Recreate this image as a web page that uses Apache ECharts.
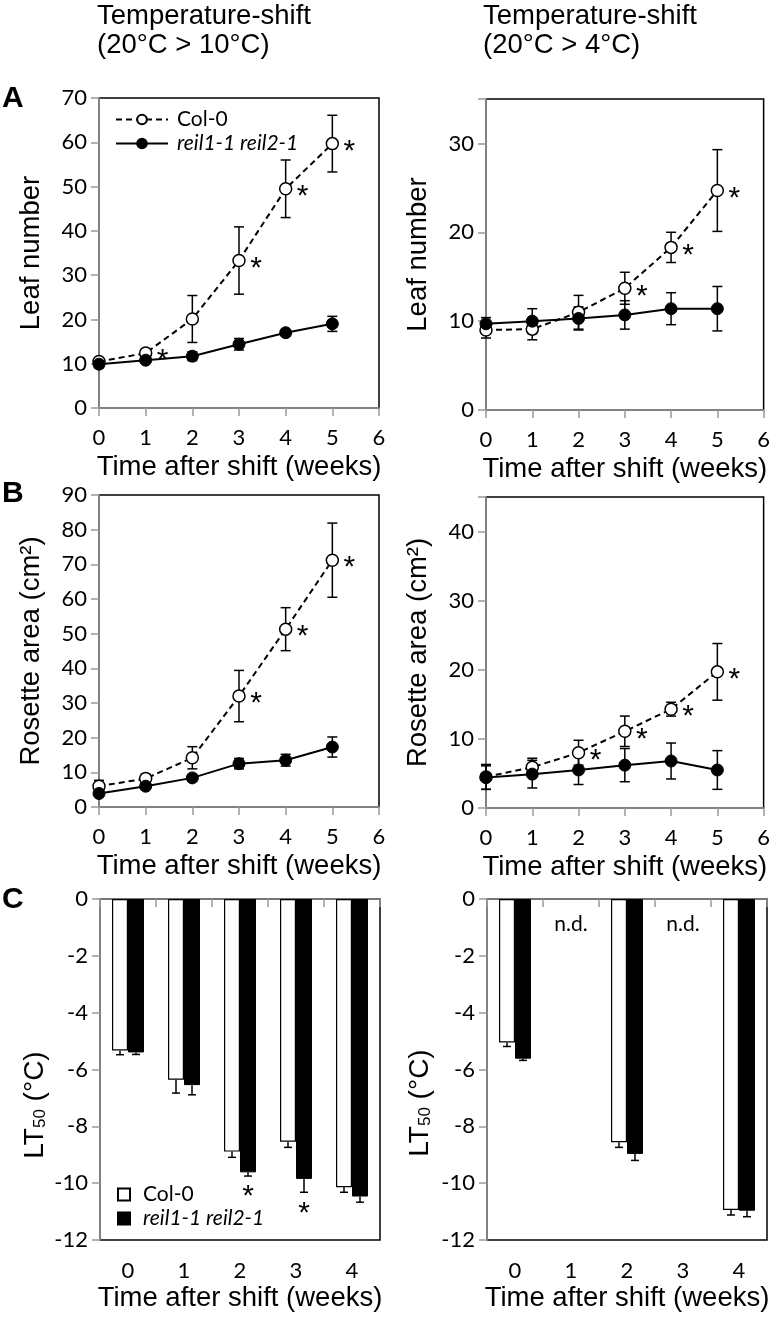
<!DOCTYPE html>
<html><head><meta charset="utf-8">
<script src="https://cdn.jsdelivr.net/npm/echarts@6/dist/echarts.min.js"></script>
<style>html,body{margin:0;padding:0;background:#fff}#c{width:773px;height:1319px}</style>
</head><body><div id="c"></div>
<script>
// ---------------- data ----------------
const weeks = [0, 1, 2, 3, 4, 5];
const genotypes = ['Col-0', 'reil1-1 reil2-1'];
const xTitle = 'Time after shift (weeks)';
const panelTitles = [['Temperature-shift', '(20°C > 10°C)'], ['Temperature-shift', '(20°C > 4°C)']];

// A: leaf number, 20°C > 10°C
const leaf10Col = [10.5, 12.4, 20.1, 33.3, 49.5, 59.7];
const leaf10ColErr = [0.8, 0.8, 5.3, 7.6, 6.5, 6.4];
const leaf10Reil = [9.9, 10.8, 11.7, 14.4, 17.0, 19.0];
const leaf10ReilErr = [0.8, 0.6, 1.0, 1.3, 0.7, 1.7];
const leaf10Sig = [0, 1, 0, 1, 1, 1];
// A: leaf number, 20°C > 4°C
const leaf4Col = [9.0, 9.1, 11.0, 13.7, 18.3, 24.7];
const leaf4ColErr = [0.9, 1.2, 1.9, 1.8, 1.7, 4.6];
const leaf4Reil = [9.7, 10.0, 10.3, 10.7, 11.4, 11.4];
const leaf4ReilErr = [0.7, 1.4, 1.3, 1.6, 1.8, 2.5];
const leaf4Sig = [0, 0, 0, 1, 1, 1];
// B: rosette area, 20°C > 10°C
const area10Col = [6.0, 8.2, 14.2, 32.0, 51.3, 71.2];
const area10ColErr = [1.7, 1.3, 3.2, 7.4, 6.2, 10.7];
const area10Reil = [3.9, 6.0, 8.4, 12.5, 13.5, 17.3];
const area10ReilErr = [0.8, 0.8, 1.0, 1.5, 1.7, 2.9];
const area10Sig = [0, 0, 0, 1, 1, 1];
// B: rosette area, 20°C > 4°C
const area4Col = [4.5, 5.9, 8.0, 11.1, 14.3, 19.7];
const area4ColErr = [1.8, 1.3, 1.8, 2.2, 1.0, 4.1];
const area4Reil = [4.4, 4.9, 5.5, 6.2, 6.8, 5.5];
const area4ReilErr = [1.7, 2.0, 2.1, 2.4, 2.6, 2.8];
const area4Sig = [0, 0, 1, 1, 1, 1];
// C: LT50
const ltWeeks = ['0', '1', '2', '3', '4'];
const lt10Col = [-5.33, -6.36, -8.89, -8.54, -10.14];
const lt10ColErr = [0.15, 0.47, 0.2, 0.2, 0.18];
const lt10Reil = [-5.40, -6.55, -9.62, -9.85, -10.47];
const lt10ReilErr = [0.07, 0.34, 0.13, 0.47, 0.2];
const lt10Sig = [0, 0, 1, 1, 0];
const lt4Col = [-5.05, null, -8.56, null, -10.94];
const lt4ColErr = [0.14, null, 0.18, null, 0.18];
const lt4Reil = [-5.62, null, -8.97, null, -10.97];
const lt4ReilErr = [0.06, null, 0.23, null, 0.21];
const lt4NotDetermined = [0, 1, 0, 1, 0];

// ---------------- styles ----------------
const TICKF = 'Lato';
const TITLEF = 'Liberation Sans';
const GRAY = '#999';
const TICKSIZE = 22;
const NAMESIZE = 27.5;

const grids = [
  {left: 99, top: 98, width: 280, height: 310},
  {left: 486, top: 99, width: 280, height: 311},
  {left: 99, top: 495, width: 280, height: 312},
  {left: 486, top: 497, width: 280, height: 311},
  {left: 100, top: 899, width: 280, height: 341},
  {left: 487, top: 899, width: 280, height: 341}
].map(g => Object.assign({show: true, borderColor: '#000', borderWidth: 1.5, backgroundColor: 'transparent'}, g));

const xAxes = [], yAxes = [], series = [];

function valueX(gi) {
  xAxes.push({
    gridIndex: gi, type: 'value', min: 0, max: 6, interval: 1,
    axisLine: {show: true, lineStyle: {color: GRAY, width: 1.5}},
    axisTick: {show: true, length: 8, lineStyle: {color: GRAY, width: 1.5}},
    splitLine: {show: false},
    axisLabel: {fontFamily: TICKF, fontSize: TICKSIZE, color: '#000', margin: 19},
    name: xTitle, nameLocation: 'middle', nameGap: 45,
    nameTextStyle: {fontFamily: TITLEF, fontSize: NAMESIZE, color: '#000'}
  });
  return xAxes.length - 1;
}
function valueY(gi, min, max, interval, name, gap) {
  yAxes.push({
    gridIndex: gi, type: 'value', min: min, max: max, interval: interval,
    axisLine: {show: true, lineStyle: {color: GRAY, width: 1.5}},
    axisTick: {show: true, length: 8, lineStyle: {color: GRAY, width: 1.5}},
    splitLine: {show: false},
    axisLabel: {fontFamily: TICKF, fontSize: TICKSIZE, color: '#000', margin: 12,
      formatter: v => (Math.abs(v % interval) < 1e-9 ? String(v) : '')},
    name: name || '', nameLocation: 'middle', nameGap: gap || 55, nameRotate: 90,
    nameTextStyle: {fontFamily: TITLEF, fontSize: NAMESIZE, color: '#000'}
  });
  return yAxes.length - 1;
}

function errSeries(xi, yi, vals, errs) {
  return {
    type: 'custom', xAxisIndex: xi, yAxisIndex: yi, z: 1, silent: true,
    data: weeks.map((w, i) => [w, vals[i] - errs[i], vals[i] + errs[i]]),
    encode: {x: 0, y: [1, 2]},
    renderItem: (params, api) => {
      const x = api.value(0);
      const p1 = api.coord([x, api.value(2)]);
      const p2 = api.coord([x, api.value(1)]);
      const w = 5, st = {stroke: '#000', lineWidth: 1.5};
      return {type: 'group', children: [
        {type: 'line', shape: {x1: p1[0], y1: p1[1], x2: p2[0], y2: p2[1]}, style: st},
        {type: 'line', shape: {x1: p1[0] - w, y1: p1[1], x2: p1[0] + w, y2: p1[1]}, style: st},
        {type: 'line', shape: {x1: p2[0] - w, y1: p2[1], x2: p2[0] + w, y2: p2[1]}, style: st}
      ]};
    }
  };
}
function starSeries(xi, yi, vals, sig, dx, dy, catMode) {
  const data = [];
  sig.forEach((s, i) => { if (s) data.push([catMode ? i : weeks[i], vals[i]]); });
  return {
    type: 'custom', xAxisIndex: xi, yAxisIndex: yi, z: 5, silent: true, data: data,
    renderItem: (params, api) => {
      const p = api.coord([api.value(0), api.value(1)]);
      return {type: 'text', x: p[0] + dx, y: p[1] + dy,
        style: {text: '*', fontFamily: TITLEF, fontSize: 30, fill: '#000', align: 'center', verticalAlign: 'middle'}};
    }
  };
}

function linePanel(gi, ymax, yint, yname, col, colErr, reil, reilErr, sig) {
  const xi = valueX(gi);
  const yi = valueY(gi, 0, ymax, yint, yname, 54);
  series.push(errSeries(xi, yi, col, colErr));
  series.push(errSeries(xi, yi, reil, reilErr));
  series.push({
    name: genotypes[0], type: 'line', xAxisIndex: xi, yAxisIndex: yi, z: 3,
    data: weeks.map((w, i) => [w, col[i]]),
    symbol: 'circle', symbolSize: 12,
    itemStyle: {color: '#fff', borderColor: '#000', borderWidth: 1.5},
    lineStyle: {color: '#000', width: 2, type: [6, 4]}
  });
  series.push({
    name: genotypes[1], type: 'line', xAxisIndex: xi, yAxisIndex: yi, z: 4,
    data: weeks.map((w, i) => [w, reil[i]]),
    symbol: 'circle', symbolSize: 12,
    itemStyle: {color: '#000', borderColor: '#000', borderWidth: 1},
    lineStyle: {color: '#000', width: 2}
  });
  series.push(starSeries(xi, yi, col, sig, 17, 8, false));
}

function barPanel(gi, col, colErr, reil, reilErr, sig, nd) {
  xAxes.push({
    gridIndex: gi, type: 'category', data: ltWeeks, position: 'bottom',
    axisLine: {show: true, lineStyle: {color: '#000', width: 1.5}},
    axisTick: {show: true, length: 8, interval: 0, lineStyle: {color: GRAY, width: 1.5}},
    axisLabel: {fontFamily: TICKF, fontSize: TICKSIZE, color: '#000', margin: 20},
    name: xTitle, nameLocation: 'middle', nameGap: 44,
    nameTextStyle: {fontFamily: TITLEF, fontSize: NAMESIZE, color: '#000'}
  });
  const xi = xAxes.length - 1;
  xAxes.push({
    gridIndex: gi, type: 'category', data: ltWeeks, position: 'top',
    axisLine: {show: true, lineStyle: {color: GRAY, width: 1.5}},
    axisTick: {show: true, inside: true, length: 6, interval: 0, lineStyle: {color: GRAY, width: 1.5}},
    axisLabel: {show: false}
  });
  const yi = valueY(gi, -12, 0, 2, '', 55);
  series.push({
    name: genotypes[0] + ' ', type: 'bar', xAxisIndex: xi, yAxisIndex: yi, barWidth: 16, barGap: '0%',
    data: col, itemStyle: {color: '#fff', borderColor: '#000', borderWidth: 1.2}, z: 2
  });
  series.push({
    name: genotypes[1] + ' ', type: 'bar', xAxisIndex: xi, yAxisIndex: yi, barWidth: 16, barGap: '0%',
    data: reil, itemStyle: {color: '#000', borderColor: '#000', borderWidth: 1}, z: 2
  });
  [[col, colErr, -8], [reil, reilErr, 8]].forEach(([vals, errs, dx]) => {
    const data = [];
    vals.forEach((v, i) => { if (v !== null) data.push([i, v, errs[i]]); });
    series.push({
      type: 'custom', xAxisIndex: xi, yAxisIndex: yi, z: 3, silent: true, data: data,
      renderItem: (params, api) => {
        const i = api.value(0), v = api.value(1), e = api.value(2);
        const p1 = api.coord([i, v]), p2 = api.coord([i, v - e]);
        const x = p1[0] + dx, w = 4, st = {stroke: '#000', lineWidth: 1.5};
        return {type: 'group', children: [
          {type: 'line', shape: {x1: x, y1: p1[1], x2: x, y2: p2[1]}, style: st},
          {type: 'line', shape: {x1: x - w, y1: p2[1], x2: x + w, y2: p2[1]}, style: st}
        ]};
      }
    });
  });
  if (sig) {
    const lows = reil.map((v, i) => v === null ? null : v - reilErr[i]);
    series.push(starSeries(xi, yi, lows, sig, 8, 21, true));
  }
  if (nd) {
    const data = [];
    nd.forEach((f, i) => { if (f) data.push([i, 0]); });
    series.push({
      type: 'custom', xAxisIndex: xi, yAxisIndex: yi, z: 5, silent: true, data: data,
      renderItem: (params, api) => {
        const p = api.coord([api.value(0), api.value(1)]);
        return {type: 'text', x: p[0], y: p[1] + 25,
          style: {text: 'n.d.', fontFamily: TICKF, fontSize: 21, fill: '#000', align: 'center', verticalAlign: 'middle'}};
      }
    });
  }
}

linePanel(0, 70, 10, 'Leaf number', leaf10Col, leaf10ColErr, leaf10Reil, leaf10ReilErr, leaf10Sig);
linePanel(1, 35, 10, 'Leaf number', leaf4Col, leaf4ColErr, leaf4Reil, leaf4ReilErr, leaf4Sig);
linePanel(2, 90, 10, 'Rosette area (cm²)', area10Col, area10ColErr, area10Reil, area10ReilErr, area10Sig);
linePanel(3, 45, 10, 'Rosette area (cm²)', area4Col, area4ColErr, area4Reil, area4ReilErr, area4Sig);
barPanel(4, lt10Col, lt10ColErr, lt10Reil, lt10ReilErr, lt10Sig, null);
barPanel(5, lt4Col, lt4ColErr, lt4Reil, lt4ReilErr, null, lt4NotDetermined);

const italicFmt = name => (name.trim() === genotypes[0] ? name : '{i|' + name + '}');
const legendText = {fontFamily: TICKF, fontSize: 21, color: '#000', rich: {i: {fontFamily: TICKF, fontSize: 21, fontStyle: 'italic', color: '#000'}}};

function titleText(x, y, text, size, weight) {
  return {type: 'text', x: x, y: y, silent: true,
    style: {text: text, fontFamily: TITLEF, fontSize: size, fontWeight: weight || 'normal', fill: '#000', align: 'left', verticalAlign: 'middle'}};
}
function ltTitle(cx, cy) {
  return {type: 'text', x: cx, y: cy, rotation: Math.PI / 2, silent: true,
    style: {text: '{a|LT}{s|50}{a| (°C)}', align: 'center', verticalAlign: 'middle', fill: '#000',
      rich: {a: {fontFamily: TITLEF, fontSize: 28, color: '#000'},
             s: {fontFamily: TITLEF, fontSize: 17, color: '#000', verticalAlign: 'bottom', lineHeight: 5}}}};
}

const option = {
  animation: false,
  backgroundColor: '#fff',
  grid: grids, xAxis: xAxes, yAxis: yAxes, series: series,
  legend: [
    {data: genotypes, orient: 'vertical', left: 110, top: 104, itemWidth: 52, itemHeight: 12, itemGap: 3,
     textStyle: Object.assign({padding: [0, 0, 0, 4]}, legendText), formatter: italicFmt, selectedMode: false},
    {data: genotypes.map(g => ({name: g + ' ', icon: 'rect'})), orient: 'vertical', left: 112, top: 1179,
     itemWidth: 12, itemHeight: 12, itemGap: 3,
     textStyle: Object.assign({padding: [0, 0, 0, 8]}, legendText), formatter: italicFmt, selectedMode: false}
  ],
  graphic: [
    titleText(97, 16, panelTitles[0][0], 27.5), titleText(97, 45, panelTitles[0][1], 27.5),
    titleText(483, 16, panelTitles[1][0], 27.5), titleText(483, 45, panelTitles[1][1], 27.5),
    titleText(2, 99, 'A', 30, 'bold'), titleText(2, 494, 'B', 30, 'bold'), titleText(2, 900, 'C', 30, 'bold'),
    ltTitle(35, 1105), ltTitle(420, 1103)
  ]
};
const chart = echarts.init(document.getElementById('c'), null, {renderer: 'canvas'});
chart.setOption(option);
</script></body></html>
